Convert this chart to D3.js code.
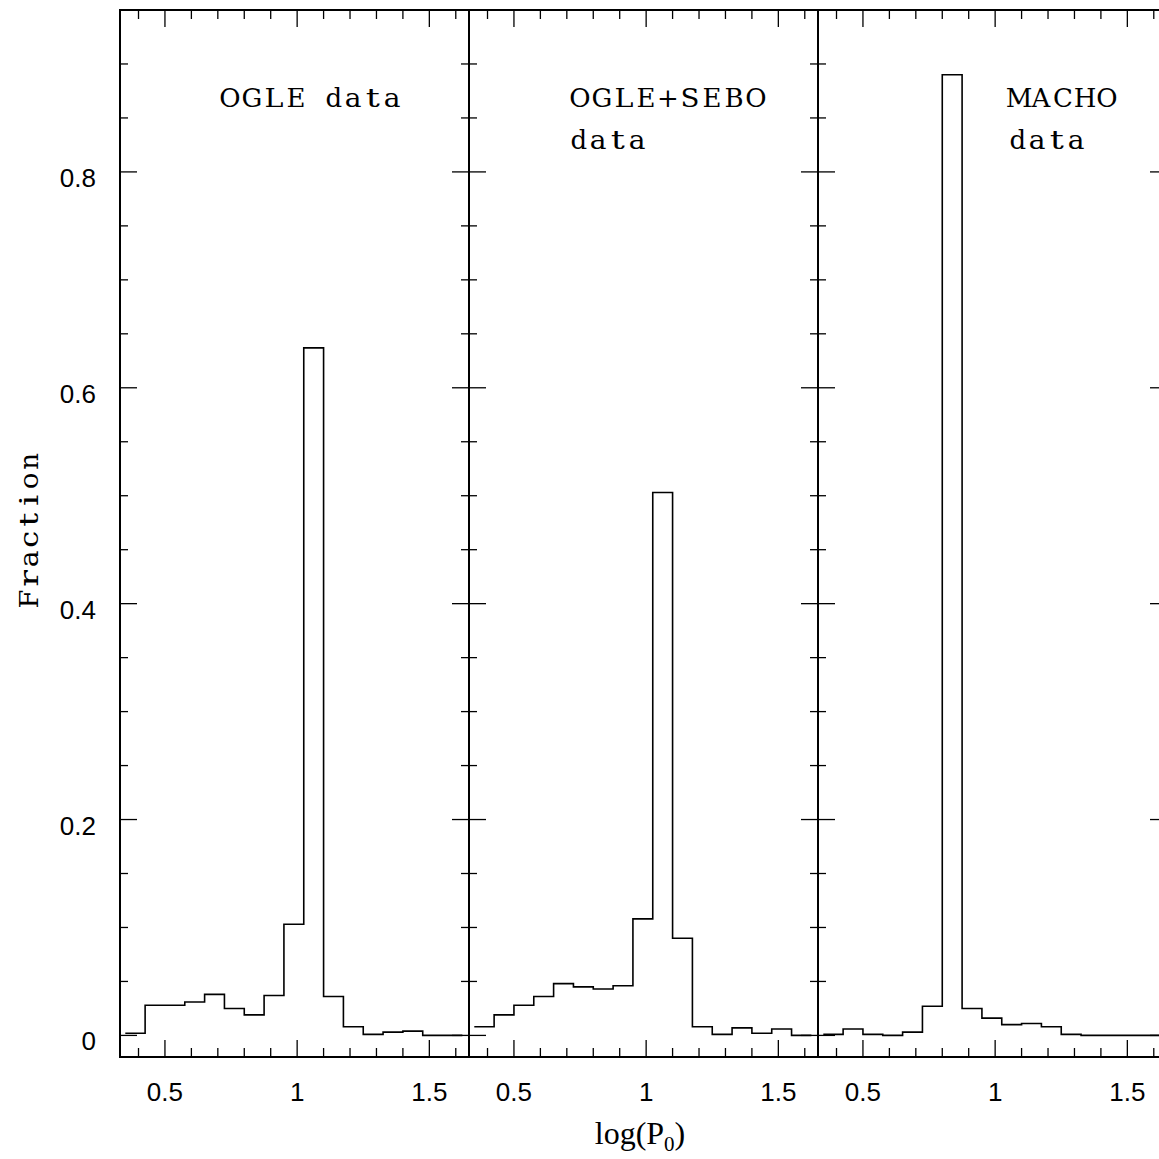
<!DOCTYPE html>
<html>
<head>
<meta charset="utf-8">
<script src="https://cdn.jsdelivr.net/npm/d3@7"></script>
<style>
  body { margin: 0; background: #fff; }
  svg { display: block; }
</style>
</head>
<body>
<script>
// bin left edges in log(P0), each bin is 0.075 wide
const binStarts = [0.35, 0.425, 0.5, 0.575, 0.65, 0.725, 0.8, 0.875, 0.95, 1.025, 1.1, 1.175, 1.25, 1.325, 1.4, 1.475, 1.55];
const binEnd = 1.625;

const ogleValues = [0.002, 0.028, 0.028, 0.031, 0.038, 0.025, 0.019, 0.037, 0.103, 0.637, 0.036, 0.008, 0.001, 0.003, 0.004, 0.0, 0.0];
const ogleSeboValues = [0.008, 0.019, 0.028, 0.036, 0.048, 0.045, 0.043, 0.046, 0.108, 0.503, 0.090, 0.008, 0.001, 0.007, 0.002, 0.006, 0.0];
const machoValues = [0.001, 0.006, 0.001, 0.0, 0.003, 0.027, 0.890, 0.025, 0.016, 0.010, 0.011, 0.008, 0.001, 0.0, 0.0, 0.0, 0.0];

const panelLabels = [["OGLE data"], ["OGLE+SEBO", "data"], ["MACHO", "data"]];
const panelSeries = [ogleValues, ogleSeboValues, machoValues];
const labelOffsets = [99, 100, 190];

const xMajor = [0.5, 1, 1.5];
const xMajorLabels = ["0.5", "1", "1.5"];
const xMinor = [0.4, 0.6, 0.7, 0.8, 0.9, 1.1, 1.2, 1.3, 1.4, 1.6];
const yMajor = [0, 0.2, 0.4, 0.6, 0.8];
const yMajorLabels = ["0", "0.2", "0.4", "0.6", "0.8"];
const yMinor = [0.05, 0.1, 0.15, 0.25, 0.3, 0.35, 0.45, 0.5, 0.55, 0.65, 0.7, 0.75, 0.85, 0.9];

const W = 1159, H = 1159;
const margin = { left: 120, top: 10 };
const panelW = 349, panelH = 1047;

const svg = d3.select("body").append("svg")
  .attr("width", W)
  .attr("height", H);

const y = d3.scaleLinear().domain([-0.02, 0.95]).range([margin.top + panelH, margin.top]);

const serifFont = "'DejaVu Serif', 'Liberation Serif', serif";
const labelFont = "'Liberation Serif', 'DejaVu Serif', serif";
const sansFont = "'Liberation Sans', Arial, sans-serif";

// plotter-font look: serif glyphs laid out in even cells, caps a bit wider
const monoText = (sel, str, x0, y0, size) => {
  const g = sel.append("g").attr("class", "mono");
  let cx = x0;
  str.split("").forEach(ch => {
    const cell = ch === " " ? 17 : (/[a-z]/.test(ch) ? 19.5 : 22);
    if (ch !== " ") {
      const t = g.append("text")
        .attr("x", cx + cell / 2)
        .attr("y", y0)
        .attr("font-family", serifFont)
        .attr("font-size", size)
        .attr("text-anchor", "middle")
        .text(ch);
      const w = t.node().getComputedTextLength();
      const target = Math.min(Math.max(w, cell * 0.86), w * 1.35);
      if (target > w + 0.5) {
        t.attr("textLength", target).attr("lengthAdjust", "spacingAndGlyphs");
      }
    }
    cx += cell;
  });
  return g;
};

panelSeries.forEach((vals, p) => {
  const x0 = margin.left + p * panelW;
  const x = d3.scaleLinear().domain([0.33, 1.65]).range([x0, x0 + panelW]);
  const g = svg.append("g").attr("class", "panel");

  // step histogram
  const pts = [];
  vals.forEach((v, i) => {
    const a = binStarts[i];
    const b = i + 1 < binStarts.length ? binStarts[i + 1] : binEnd;
    pts.push([x(a), y(v)], [x(b), y(v)]);
  });
  g.append("path")
    .attr("d", d3.line()(pts))
    .attr("fill", "none")
    .attr("stroke", "#000")
    .attr("stroke-width", 1.6);

  // ticks, all pointing inward
  const tick = (x1, y1, x2, y2) => g.append("line")
    .attr("x1", x1).attr("y1", y1).attr("x2", x2).attr("y2", y2)
    .attr("stroke", "#000").attr("stroke-width", 1.3);

  const yb = y.range()[0], yt = y.range()[1];
  xMajor.forEach(t => { tick(x(t), yb, x(t), yb - 17); tick(x(t), yt, x(t), yt + 17); });
  xMinor.forEach(t => { tick(x(t), yb, x(t), yb - 9); tick(x(t), yt, x(t), yt + 9); });
  yMajor.forEach(t => { tick(x0, y(t), x0 + 17, y(t)); tick(x0 + panelW, y(t), x0 + panelW - 17, y(t)); });
  yMinor.forEach(t => { tick(x0, y(t), x0 + 8, y(t)); tick(x0 + panelW, y(t), x0 + panelW - 8, y(t)); });

  // frame
  g.append("rect")
    .attr("x", x0).attr("y", yt)
    .attr("width", panelW).attr("height", panelH)
    .attr("fill", "none")
    .attr("stroke", "#000")
    .attr("stroke-width", 2);

  // x tick labels
  g.selectAll(".xlab")
    .data(xMajor)
    .enter().append("text")
    .attr("class", "xlab")
    .attr("x", d => x(d))
    .attr("y", 1101)
    .attr("text-anchor", "middle")
    .attr("font-family", sansFont)
    .attr("font-size", 26)
    .text((d, i) => xMajorLabels[i]);

  // panel label
  panelLabels[p].forEach((line, i) => {
    monoText(g, line, x0 + labelOffsets[p], 107 + i * 42, 26);
  });
});

// y tick labels
svg.selectAll(".ylab")
  .data(yMajor)
  .enter().append("text")
  .attr("class", "ylab")
  .attr("x", 96)
  .attr("y", d => y(d) + 15)
  .attr("text-anchor", "end")
  .attr("font-family", sansFont)
  .attr("font-size", 26)
  .text((d, i) => yMajorLabels[i]);

// axis titles
const yTitle = svg.append("g").attr("transform", "translate(38,610)rotate(-90)");
monoText(yTitle, "Fraction", 0, 0, 26);

const xt = svg.append("text")
  .attr("x", 640)
  .attr("y", 1144)
  .attr("text-anchor", "middle")
  .attr("font-family", labelFont)
  .attr("font-size", 32);
xt.append("tspan").text("log(P");
xt.append("tspan").attr("font-size", 21).attr("dy", 7).text("0");
xt.append("tspan").attr("dy", -7).text(")");
</script>
</body>
</html>
